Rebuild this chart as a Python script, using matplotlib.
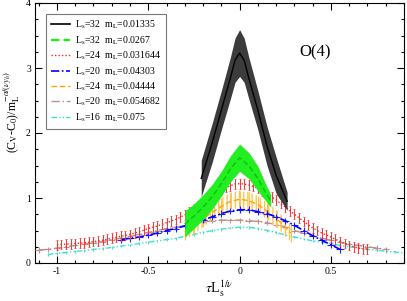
import matplotlib
matplotlib.use("Agg")
import matplotlib.pyplot as plt
import numpy as np

plt.rcParams['font.family'] = ['Liberation Serif', 'DejaVu Serif']
plt.rcParams['mathtext.fontset'] = 'stix'

# ---- data ----
# Ls=32 mL=0.01335 (black band)
x_k = [-0.21, -0.15, -0.10, -0.05, -0.025, 0.0, 0.025, 0.05, 0.10, 0.15, 0.20, 0.26]
y_k = [1.30, 1.85, 2.35, 2.85, 3.12, 3.23, 3.12, 2.85, 2.35, 1.80, 1.35, 0.95]
e_k = [0.28, 0.30, 0.30, 0.32, 0.34, 0.36, 0.34, 0.32, 0.30, 0.30, 0.28, 0.14]

# Ls=32 mL=0.0267 (green band)
x_g = [-0.30, -0.25, -0.20, -0.15, -0.10, -0.05, 0.0, 0.05, 0.10, 0.15, 0.17]
y_g = [0.60, 0.72, 0.86, 1.02, 1.22, 1.45, 1.62, 1.50, 1.30, 1.05, 0.96]
e_g = [0.20, 0.19, 0.19, 0.19, 0.19, 0.20, 0.21, 0.20, 0.19, 0.12, 0.10]

# Ls=24 mL=0.031644 (red)
x_r = [-1.000, -0.975, -0.950, -0.925, -0.900, -0.875, -0.850, -0.825, -0.800, -0.775,
       -0.750, -0.725, -0.700, -0.675, -0.650, -0.625, -0.600, -0.575, -0.550, -0.525,
       -0.500, -0.475, -0.450, -0.425, -0.400, -0.375, -0.350, -0.325, -0.300, -0.275,
       -0.250, -0.225, -0.200, -0.175, -0.150, -0.125, -0.100, -0.075, -0.050, -0.025,
       0.000, 0.025, 0.050, 0.075, 0.100, 0.125, 0.150, 0.175, 0.200, 0.225,
       0.250, 0.275, 0.300, 0.325, 0.350, 0.375, 0.400, 0.425, 0.450, 0.475,
       0.500, 0.525, 0.550, 0.575, 0.600, 0.625, 0.650, 0.675, 0.700]
y_r = [0.280, 0.285, 0.290, 0.295, 0.300, 0.305, 0.310, 0.320, 0.330, 0.340,
       0.350, 0.365, 0.380, 0.395, 0.410, 0.425, 0.440, 0.460, 0.480, 0.505,
       0.530, 0.550, 0.570, 0.595, 0.620, 0.645, 0.670, 0.705, 0.740, 0.785,
       0.830, 0.880, 0.930, 0.980, 1.030, 1.075, 1.120, 1.160, 1.190, 1.215,
       1.220, 1.215, 1.200, 1.180, 1.150, 1.110, 1.070, 1.020, 0.970, 0.915,
       0.860, 0.805, 0.750, 0.695, 0.640, 0.590, 0.540, 0.500, 0.460, 0.430,
       0.400, 0.365, 0.330, 0.300, 0.270, 0.250, 0.230, 0.220, 0.210]
e_r = 0.075

# Ls=20 mL=0.04303 (blue)
x_b = [-0.65, -0.60, -0.55, -0.50, -0.45, -0.40, -0.35, -0.30, -0.25, -0.20,
       -0.15, -0.10, -0.05, 0.00, 0.05, 0.10, 0.15, 0.20, 0.25, 0.30,
       0.35, 0.40, 0.45, 0.50, 0.55]
y_b = [0.36, 0.38, 0.40, 0.43, 0.46, 0.50, 0.53, 0.57, 0.61, 0.66,
       0.71, 0.76, 0.80, 0.82, 0.82, 0.79, 0.76, 0.71, 0.65, 0.58,
       0.50, 0.42, 0.35, 0.28, 0.21]
e_b = 0.05

# Ls=24 mL=0.04444 (orange)
x_o = [-0.30, -0.25, -0.20, -0.15, -0.10, -0.05, 0.00, 0.05, 0.10, 0.15, 0.20, 0.25, 0.28]
y_o = [0.48, 0.58, 0.68, 0.78, 0.87, 0.95, 0.98, 0.96, 0.90, 0.80, 0.69, 0.55, 0.46]
e_o = 0.13

# Ls=20 mL=0.054682 (rosy brown)
x_n = [-1.10, -1.05, -1.00, -0.95, -0.90, -0.85, -0.80, -0.75, -0.70, -0.65,
       -0.60, -0.55, -0.50, -0.45, -0.40, -0.35, -0.30, -0.25, -0.20, -0.15,
       -0.10, -0.05, 0.00, 0.05, 0.10, 0.15, 0.20, 0.25, 0.30, 0.35,
       0.40, 0.45, 0.50, 0.55, 0.60, 0.65, 0.70, 0.75, 0.80]
y_n = [0.20, 0.21, 0.23, 0.25, 0.27, 0.29, 0.31, 0.33, 0.36, 0.38,
       0.41, 0.44, 0.47, 0.50, 0.53, 0.55, 0.58, 0.61, 0.63, 0.65,
       0.66, 0.66, 0.66, 0.65, 0.64, 0.62, 0.59, 0.55, 0.50, 0.46,
       0.42, 0.38, 0.35, 0.32, 0.29, 0.27, 0.25, 0.23, 0.21]
e_n = 0.04

# Ls=16 mL=0.075 (turquoise)
x_c = [-1.05, -1.00, -0.95, -0.90, -0.85, -0.80, -0.75, -0.70, -0.65, -0.60,
       -0.55, -0.50, -0.45, -0.40, -0.35, -0.30, -0.25, -0.20, -0.15, -0.10,
       -0.05, 0.00, 0.05, 0.10, 0.15, 0.20, 0.25, 0.30, 0.35, 0.40,
       0.45, 0.50, 0.55, 0.60, 0.65, 0.70, 0.75, 0.80, 0.85, 0.90]
y_c = [0.13, 0.15, 0.16, 0.18, 0.19, 0.21, 0.22, 0.24, 0.26, 0.28,
       0.30, 0.32, 0.34, 0.36, 0.38, 0.41, 0.44, 0.47, 0.50, 0.52,
       0.54, 0.55, 0.55, 0.53, 0.50, 0.47, 0.43, 0.40, 0.37, 0.34,
       0.32, 0.30, 0.27, 0.25, 0.23, 0.21, 0.20, 0.18, 0.17, 0.15]
e_c = 0.02

labels = [r'L$_\mathrm{s}$=32  m$_\mathrm{L}$=0.01335',
          r'L$_\mathrm{s}$=32  m$_\mathrm{L}$=0.0267',
          r'L$_\mathrm{s}$=24  m$_\mathrm{L}$=0.031644',
          r'L$_\mathrm{s}$=20  m$_\mathrm{L}$=0.04303',
          r'L$_\mathrm{s}$=24  m$_\mathrm{L}$=0.04444',
          r'L$_\mathrm{s}$=20  m$_\mathrm{L}$=0.054682',
          r'L$_\mathrm{s}$=16  m$_\mathrm{L}$=0.075']

fig = plt.figure(figsize=(4.07, 3.01), dpi=100)
ax = fig.add_axes([35/407, 38/301, 369/407, 260/301])

def arr(v):
    return np.asarray(v, dtype=float)

# turquoise
ax.errorbar(x_c, y_c, yerr=e_c, fmt='none', ecolor='#40e0d0', elinewidth=0.8, capsize=0, zorder=2)
ax.plot(x_c, y_c, color='#40e0d0', ls=(0, (4, 1.5, 1, 1.5, 1, 1.5)), lw=1.0, label=labels[6], zorder=2)
# rosy brown
ax.errorbar(x_n, y_n, yerr=e_n, xerr=0.018, fmt='none', ecolor='#bc8f8f', elinewidth=0.8, capsize=0, zorder=3)
ax.plot(x_n, y_n, color='#bc8f8f', ls=(0, (6, 2, 1, 2)), lw=1.0, label=labels[5], zorder=3)
# orange
ax.errorbar(x_o, y_o, yerr=e_o, fmt='none', ecolor='#ffc34d', elinewidth=0.8, capsize=0, zorder=3)
ax.fill_between(x_o, arr(y_o) - e_o, arr(y_o) + e_o, facecolor='none', edgecolor='#ffc34d',
                hatch='||||', linewidth=0, zorder=3)
ax.plot(x_o, y_o, color='#ffa500', ls=(0, (4, 2)), lw=1.0, label=labels[4], zorder=4)
# blue
ax.errorbar(x_b, y_b, yerr=e_b, xerr=0.02, fmt='none', ecolor='#2020ff', elinewidth=0.8, capsize=0, zorder=4)
ax.plot(x_b, y_b, color='#0000ff', ls=(0, (5, 1.5, 1, 1.5)), lw=1.2, label=labels[3], zorder=4)
# red
ax.errorbar(x_r, y_r, yerr=e_r, fmt='none', ecolor='#ff3030', elinewidth=0.7, capsize=1.0, capthick=0.5, zorder=5)
ax.plot(x_r, y_r, color='#ff2020', ls=(0, (1, 1.5)), lw=1.0, label=labels[2], zorder=5)
# green band
ax.fill_between(x_g, arr(y_g) - arr(e_g), arr(y_g) + arr(e_g), color='#22ee22', lw=0, zorder=6)
ax.plot(x_g, y_g, color='#00c800', ls=(0, (4, 2)), lw=1.0, zorder=7)
ax.plot([], [], color='#00ff00', ls=(0, (4, 2)), lw=1.5, label=labels[1])
# black band
ax.fill_between(x_k, arr(y_k) - arr(e_k), arr(y_k) + arr(e_k), color='#3c3c3c', lw=0, zorder=8)
ax.plot(x_k, y_k, color='black', lw=1.0, zorder=9)
ax.plot([], [], color='black', lw=1.2, label=labels[0])

ax.set_xlim(-1.12, 0.9)
ax.set_ylim(0, 4)
ax.set_xticks([-1, -0.5, 0, 0.5])
ax.set_xticklabels(['-1', '-0.5', '0', '0.5'])
ax.set_yticks([0, 1, 2, 3, 4])
ax.set_xticks(np.arange(-1.1, 0.91, 0.1), minor=True)
ax.set_yticks(np.arange(0, 4.01, 0.25), minor=True)
ax.tick_params(which='both', direction='in', top=True, right=True, labelsize=7, pad=3, width=0.8)
ax.tick_params(which='major', length=5)
ax.tick_params(which='minor', length=2.5)
for s in ax.spines.values():
    s.set_linewidth(0.8)

ax.set_xlabel(r'$\tau$L$_\mathrm{s}^{1/\nu}$', fontsize=10, labelpad=2)
ax.set_ylabel(r'(C$_\mathrm{V}$-C$_0$)/m$_\mathrm{L}^{-\alpha/(\nu y_h)}$', fontsize=8.5)
ax.yaxis.set_label_coords(-0.035, 0.58)
ax.text(0.76, 0.81, 'O(4)', transform=ax.transAxes, fontsize=12, ha='center', va='center')

handles, labs = ax.get_legend_handles_labels()
order = [labs.index(l) for l in labels]
leg = ax.legend([handles[i] for i in order], [labs[i] for i in order],
                loc='upper left', bbox_to_anchor=(0.03, 0.958), borderaxespad=0,
                fontsize=7, frameon=True, fancybox=False, edgecolor='#555555',
                handlelength=2.0, handletextpad=0.5, labelspacing=0.3, borderpad=0.5)
leg.get_frame().set_linewidth(0.8)

fig.savefig('out.png', dpi=100)
